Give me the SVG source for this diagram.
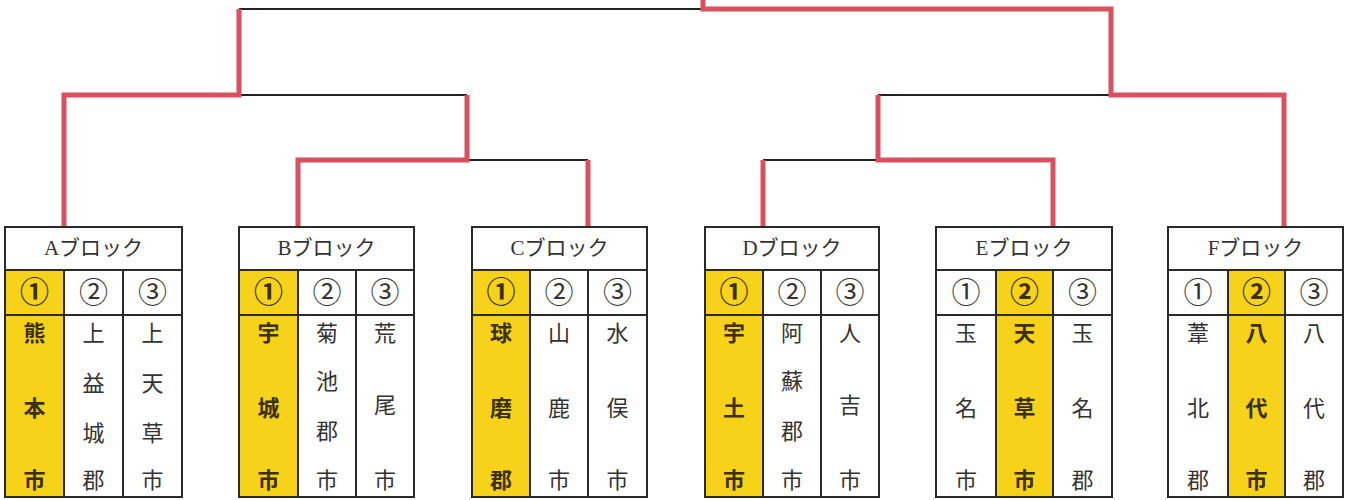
<svg xmlns="http://www.w3.org/2000/svg" width="1351" height="500" viewBox="0 0 1351 500">
<style>
.bg{fill:#ffffff}
.box{fill:none;stroke:#2a2a2a;stroke-width:2}
.ln{stroke:#2a2a2a;stroke-width:2;fill:none}
.yl{fill:#f7d21a}
.hd{font-family:"Liberation Serif","Noto Sans CJK JP",serif;font-size:21px;fill:#333;text-anchor:middle;dominant-baseline:central}
.t{font-family:"Liberation Serif","Noto Sans CJK JP",serif;font-size:22px;fill:#333;text-anchor:middle;dominant-baseline:central}
text.n{font-size:29px}
.b{font-weight:bold;fill:#3a3000}
.win{stroke:#d9505e;stroke-width:5;fill:none;stroke-linejoin:miter}
.lose{stroke:#222;stroke-width:2;fill:none}
</style>
<rect class="bg" x="0" y="0" width="1351" height="500"/>
<g id="connectors">
<path class="lose" d="M239,9 H703"/>
<path class="lose" d="M239,95 H467"/>
<path class="lose" d="M467,160 H588"/>
<path class="lose" d="M763,160 H878"/>
<path class="lose" d="M878,95 H1111"/>
<path class="win" d="M703,0 V9 H1111 V95 H1284 V227"/>
<path class="win" d="M239,9 V95 H64 V227"/>
<path class="win" d="M467,95 V160 H298 V227"/>
<path class="win" d="M588,160 V227"/>
<path class="win" d="M763,160 V227"/>
<path class="win" d="M878,95 V160 H1053 V227"/>
</g>
<g id="blockA">
<rect class="yl" x="5" y="270" width="59" height="227"/>
<rect class="box" x="5" y="227" width="177" height="270"/>
<path class="ln" d="M5,270 H182 M5,315 H182 M64,270 V497 M123,270 V497"/>
<text class="hd" x="93.5" y="248">Aブロック</text>
<text class="t n b" x="34.5" y="293">①</text><text class="t n" x="93.5" y="293">②</text><text class="t n" x="152.5" y="293">③</text>
<text class="t b" x="34.5" y="333">熊</text><text class="t b" x="34.5" y="408">本</text><text class="t b" x="34.5" y="480">市</text>
<text class="t" x="93.5" y="333">上</text><text class="t" x="93.5" y="383">益</text><text class="t" x="93.5" y="433">城</text><text class="t" x="93.5" y="480">郡</text>
<text class="t" x="152.5" y="333">上</text><text class="t" x="152.5" y="383">天</text><text class="t" x="152.5" y="433">草</text><text class="t" x="152.5" y="480">市</text>
</g>
<g id="blockB">
<rect class="yl" x="239" y="270" width="59" height="227"/>
<rect class="box" x="239" y="227" width="175" height="270"/>
<path class="ln" d="M239,270 H414 M239,315 H414 M298,270 V497 M356,270 V497"/>
<text class="hd" x="326.5" y="248">Bブロック</text>
<text class="t n b" x="268.5" y="293">①</text><text class="t n" x="327" y="293">②</text><text class="t n" x="385" y="293">③</text>
<text class="t b" x="268.5" y="333">宇</text><text class="t b" x="268.5" y="408">城</text><text class="t b" x="268.5" y="480">市</text>
<text class="t" x="327" y="333">菊</text><text class="t" x="327" y="381">池</text><text class="t" x="327" y="431">郡</text><text class="t" x="327" y="480">市</text>
<text class="t" x="385" y="333">荒</text><text class="t" x="385" y="405">尾</text><text class="t" x="385" y="480">市</text>
</g>
<g id="blockC">
<rect class="yl" x="472" y="270" width="58" height="227"/>
<rect class="box" x="472" y="227" width="175" height="270"/>
<path class="ln" d="M472,270 H647 M472,315 H647 M530,270 V497 M588,270 V497"/>
<text class="hd" x="559.5" y="248">Cブロック</text>
<text class="t n b" x="501" y="293">①</text><text class="t n" x="559" y="293">②</text><text class="t n" x="617.5" y="293">③</text>
<text class="t b" x="501" y="333">球</text><text class="t b" x="501" y="408">磨</text><text class="t b" x="501" y="480">郡</text>
<text class="t" x="559" y="333">山</text><text class="t" x="559" y="408">鹿</text><text class="t" x="559" y="480">市</text>
<text class="t" x="617.5" y="333">水</text><text class="t" x="617.5" y="408">俣</text><text class="t" x="617.5" y="480">市</text>
</g>
<g id="blockD">
<rect class="yl" x="705" y="270" width="58" height="227"/>
<rect class="box" x="705" y="227" width="174" height="270"/>
<path class="ln" d="M705,270 H879 M705,315 H879 M763,270 V497 M821,270 V497"/>
<text class="hd" x="792" y="248">Dブロック</text>
<text class="t n b" x="734" y="293">①</text><text class="t n" x="792" y="293">②</text><text class="t n" x="850" y="293">③</text>
<text class="t b" x="734" y="333">宇</text><text class="t b" x="734" y="408">土</text><text class="t b" x="734" y="480">市</text>
<text class="t" x="792" y="333">阿</text><text class="t" x="792" y="381">蘇</text><text class="t" x="792" y="431">郡</text><text class="t" x="792" y="480">市</text>
<text class="t" x="850" y="333">人</text><text class="t" x="850" y="405">吉</text><text class="t" x="850" y="480">市</text>
</g>
<g id="blockE">
<rect class="yl" x="996" y="270" width="57" height="227"/>
<rect class="box" x="936" y="227" width="176" height="270"/>
<path class="ln" d="M936,270 H1112 M936,315 H1112 M996,270 V497 M1053,270 V497"/>
<text class="hd" x="1024" y="248">Eブロック</text>
<text class="t n" x="966" y="293">①</text><text class="t n b" x="1024.5" y="293">②</text><text class="t n" x="1082.5" y="293">③</text>
<text class="t" x="966" y="333">玉</text><text class="t" x="966" y="408">名</text><text class="t" x="966" y="480">市</text>
<text class="t b" x="1024.5" y="333">天</text><text class="t b" x="1024.5" y="408">草</text><text class="t b" x="1024.5" y="480">市</text>
<text class="t" x="1082.5" y="333">玉</text><text class="t" x="1082.5" y="408">名</text><text class="t" x="1082.5" y="480">郡</text>
</g>
<g id="blockF">
<rect class="yl" x="1228" y="270" width="57" height="227"/>
<rect class="box" x="1168" y="227" width="175" height="270"/>
<path class="ln" d="M1168,270 H1343 M1168,315 H1343 M1228,270 V497 M1285,270 V497"/>
<text class="hd" x="1255.5" y="248">Fブロック</text>
<text class="t n" x="1198" y="293">①</text><text class="t n b" x="1256.5" y="293">②</text><text class="t n" x="1314" y="293">③</text>
<text class="t" x="1198" y="333">葦</text><text class="t" x="1198" y="408">北</text><text class="t" x="1198" y="480">郡</text>
<text class="t b" x="1256.5" y="333">八</text><text class="t b" x="1256.5" y="408">代</text><text class="t b" x="1256.5" y="480">市</text>
<text class="t" x="1314" y="333">八</text><text class="t" x="1314" y="408">代</text><text class="t" x="1314" y="480">郡</text>
</g>
</svg>
